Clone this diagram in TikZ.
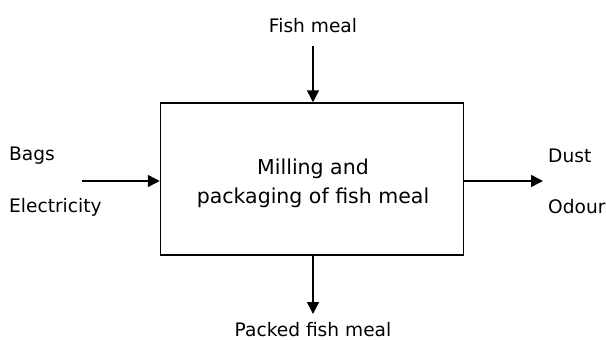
\documentclass[tikz,border=0pt]{standalone}
\usepackage{fontspec}
\setmainfont{DejaVu Sans}
\usetikzlibrary{arrows.meta,positioning}
\tikzset{
  procbox/.style={draw,line width=1.5pt,minimum width=303pt,minimum height=152pt,inner sep=0pt},
  boxtext/.style={align=center,font=\fontsize{20.5}{29}\selectfont,inner sep=0pt},
  lbl/.style={inner sep=0pt,font=\fontsize{18.6}{20}\selectfont},
  arr/.style={-{Triangle[length=12pt,width=12pt]},line width=1.5pt}
}
\begin{document}
\begin{tikzpicture}[x=1pt,y=-1pt]
  \useasboundingbox (0,0) rectangle (606,340);
  \node[procbox] (mill) at (312,179) {};
  \node[boxtext] (milltext) at (313,183) {Milling and\\packaging of fish meal};

  \node[lbl] (fish) at (313,26) {Fish meal};
  \coordinate (fishin) at (313,46);
  \draw[arr] (fishin)--(mill.north-|fishin);

  \node[lbl,anchor=west] (bags) at (9,156) {Bags};
  \node[lbl,anchor=west] (elec) at (9,207) {Electricity};
  \coordinate (leftin) at (82,181);
  \draw[arr] (leftin)--(mill.west|-leftin);

  \node[lbl,anchor=west] (dust) at (548,156) {Dust};
  \node[lbl,anchor=west] (odour) at (548,207) {Odour};
  \coordinate (rightout) at (543,181);
  \draw[arr] (mill.east|-rightout)--(rightout);

  \node[lbl] (packed) at (313,330) {Packed fish meal};
  \coordinate (botout) at (313,314);
  \draw[arr] (mill.south-|botout)--(botout);
\end{tikzpicture}
\end{document}
